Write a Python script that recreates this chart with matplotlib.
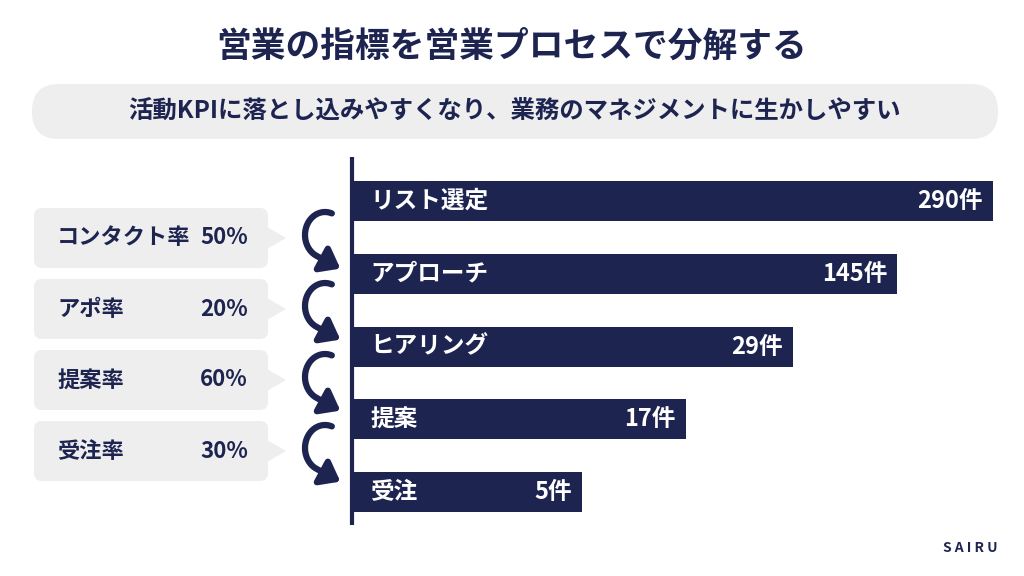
import matplotlib
matplotlib.use("Agg")
import numpy as np
import matplotlib.pyplot as plt
from matplotlib.patches import FancyBboxPatch, Polygon, FancyArrowPatch
from matplotlib.path import Path

plt.rcParams['font.family'] = ['Noto Sans CJK JP', 'DejaVu Sans']

# data
title = "営業の指標を営業プロセスで分解する"
subtitle = "活動KPIに落とし込みやすくなり、業務のマネジメントに生かしやすい"
stages = ["リスト選定", "アプローチ", "ヒアリング", "提案", "受注"]
counts = [290, 145, 29, 17, 5]
# bars are a stepped funnel, not to scale with the counts
bar_len = [640, 544, 440, 333, 229]
rate_names = ["コンタクト率", "アポ率", "提案率", "受注率"]
rates = [50, 20, 60, 30]

navy = "#1e2450"
gray = "#eeeeee"

fig = plt.figure(figsize=(10.24, 5.76), dpi=100)
ax = fig.add_axes([0, 0, 1, 1])
ax.set_xlim(0, 1024)
ax.set_ylim(576, 0)
ax.axis('off')

# title and subtitle pill
ax.text(512, 46, title, ha='center', va='center', fontsize=25,
        fontweight='bold', color=navy)
ax.add_patch(FancyBboxPatch((32, 84), 966, 55,
                            boxstyle="round,pad=0,rounding_size=27",
                            fc=gray, ec='none'))
ax.text(514, 111, subtitle, ha='center', va='center', fontsize=17.6,
        fontweight='bold', color=navy)

# funnel bars
axis_x = 353
bar_y = [201 + i * 72.75 for i in range(len(stages))]
ax.barh(bar_y, bar_len, left=axis_x, height=40, color=navy)
ax.plot([axis_x - 1, axis_x - 1], [157, 525], color=navy, lw=3,
        solid_capstyle='butt')
for y, name, c, w in zip(bar_y, stages, counts, bar_len):
    ax.text(370, y, name, ha='left', va='center', fontsize=17,
            fontweight='bold', color='white')
    ax.text(axis_x + w - 10, y, f"{c}件", ha='right', va='center',
            fontsize=17, fontweight='bold', color='white')


def curved_arrow(cy):
    # C-shaped arrow: arc over the left side, head pointing right-down
    cx, rx, ry = 325, 20, 23
    t = np.radians(np.linspace(70, 245, 30))
    xs = cx + rx * np.cos(t)
    ys = cy - ry * np.sin(t)
    d = np.array([-rx * np.sin(t[-1]), -ry * np.cos(t[-1])])
    d = d / np.hypot(*d)
    tip = (xs[-1] + d[0] * 27, ys[-1] + d[1] * 27)
    verts = list(zip(xs, ys)) + [tip]
    return FancyArrowPatch(path=Path(verts),
                           arrowstyle="-|>,head_length=0.55,head_width=0.42",
                           mutation_scale=20, lw=4.5, color=navy)


# conversion rate boxes with curved arrows
box_y = [238, 309, 380, 451]
for cy, name, r in zip(box_y, rate_names, rates):
    ax.add_patch(FancyBboxPatch((34, cy - 30), 234, 60,
                                boxstyle="round,pad=0,rounding_size=8",
                                fc=gray, ec='none'))
    ax.add_patch(Polygon([(267, cy - 11), (286, cy), (267, cy + 11)],
                         closed=True, fc=gray, ec='none'))
    ax.text(57, cy, name, ha='left', va='center', fontsize=16,
            fontweight='bold', color=navy)
    ax.text(248, cy, f"{r}%", ha='right', va='center', fontsize=16,
            fontweight='bold', color=navy)
    ax.add_patch(curved_arrow(cy - 3))

ax.text(970, 548, "S A I R U", ha='center', va='center', fontsize=10,
        fontweight='bold', color=navy)

fig.savefig("out.png", dpi=100)
